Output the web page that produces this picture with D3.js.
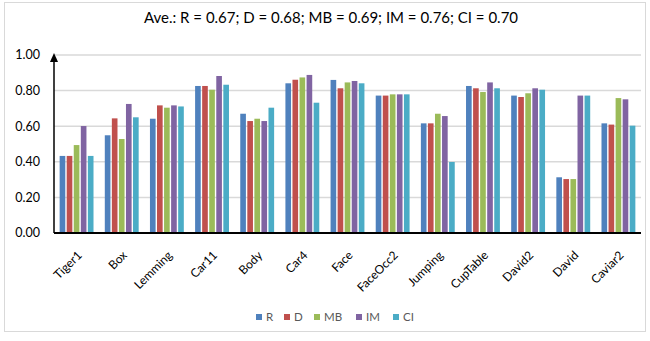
<!DOCTYPE html>
<html><head><meta charset="utf-8">
<script src="https://cdn.jsdelivr.net/npm/d3@7"></script>
<style>body{margin:0;background:#fff;} text{font-family:Lato,"Open Sans",sans-serif;}</style>
</head><body><svg id="c" width="650" height="341"></svg>
<script>
const categories = ["Tiger1","Box","Lemming","Car11","Body","Car4","Face","FaceOcc2","Jumping","CupTable","David2","David","Caviar2"];
const seriesNames = ["R","D","MB","IM","CI"];
const R  = [0.433,0.549,0.642,0.826,0.670,0.841,0.860,0.772,0.616,0.826,0.772,0.313,0.616];
const D  = [0.433,0.644,0.717,0.826,0.629,0.861,0.813,0.772,0.616,0.813,0.764,0.303,0.609];
const MB = [0.494,0.528,0.704,0.805,0.642,0.874,0.846,0.779,0.670,0.792,0.785,0.303,0.758];
const IM = [0.601,0.725,0.717,0.882,0.629,0.888,0.854,0.779,0.657,0.846,0.813,0.772,0.751];
const CI = [0.433,0.650,0.711,0.833,0.704,0.732,0.841,0.779,0.399,0.813,0.805,0.772,0.603];
const yTicks = [0,0.2,0.4,0.6,0.8,1.0];
const colors = ["#4f81bd","#c0504d","#9bbb59","#8064a2","#4bacc6"];
const title = "Ave.: R = 0.67; D = 0.68; MB = 0.69; IM = 0.76; CI = 0.70";

const values = [R,D,MB,IM,CI];
const svg = d3.select("#c");
const mL = 54, mR = 641, mT = 55, mB = 233;

svg.append("rect").attr("x",4.5).attr("y",2.5).attr("width",641).attr("height",329)
  .attr("fill","none").attr("stroke","#d9d9d9");

const x0 = d3.scaleBand().domain(categories).range([mL,mR]).paddingInner(0.25).paddingOuter(0.125);
const x1 = d3.scaleBand().domain(seriesNames).range([0,x0.bandwidth()]).paddingInner(0.2);
const y = d3.scaleLinear().domain([0,1]).range([mB,mT]);

// gridlines
svg.append("g").selectAll("line").data(yTicks.filter(d=>d>0)).join("line")
  .attr("x1",mL).attr("x2",mR).attr("y1",d=>y(d)).attr("y2",d=>y(d))
  .attr("stroke","#d9d9d9").attr("stroke-width",1.5);

// y labels
svg.append("g").selectAll("text").data(yTicks).join("text")
  .attr("x",40).attr("y",d=>y(d)).attr("dy","0.35em").attr("text-anchor","end")
  .attr("font-size",12.5).attr("fill","#000").text(d=>d3.format(".2f")(d));

// bars
const groups = svg.append("g").selectAll("g").data(categories).join("g")
  .attr("transform",d=>`translate(${x0(d)},0)`);
groups.selectAll("rect").data((c,i)=>seriesNames.map((s,j)=>({s,v:values[j][i],j}))).join("rect")
  .attr("x",d=>x1(d.s)).attr("width",x1.bandwidth())
  .attr("y",d=>y(d.v)).attr("height",d=>y(0)-y(d.v)).attr("fill",d=>colors[d.j]);

// axes
svg.append("line").attr("x1",mL).attr("x2",mR).attr("y1",mB).attr("y2",mB)
  .attr("stroke","#000").attr("stroke-width",2);
svg.append("line").attr("x1",mL).attr("x2",mL).attr("y1",mB).attr("y2",mT+4)
  .attr("stroke","#000").attr("stroke-width",1.5);
svg.append("path").attr("d",`M${mL},${mT-2} L${mL-4},${mT+7} L${mL+4},${mT+7} Z`).attr("fill","#000");

// x labels
svg.append("g").selectAll("text").data(categories).join("text")
  .attr("transform",d=>`translate(${x0(d)+x0.bandwidth()/2+6},${mB+23}) rotate(-45)`)
  .attr("text-anchor","end").attr("font-size",12).attr("fill","#000").text(d=>d);

// title
svg.append("text").attr("x",331).attr("y",23).attr("text-anchor","middle")
  .attr("font-size",15).attr("fill","#000").text(title);

// legend
const legItems = [256,284,314,356,393];
const lg = svg.append("g").selectAll("g").data(seriesNames).join("g")
  .attr("transform",(d,i)=>`translate(${legItems[i]},314)`);
lg.append("rect").attr("width",6).attr("height",6).attr("fill",(d,i)=>colors[i]);
lg.append("text").attr("x",10).attr("y",3).attr("dy","0.35em").attr("font-size",11.5)
  .attr("fill","#595959").text(d=>d);
</script></body></html>
